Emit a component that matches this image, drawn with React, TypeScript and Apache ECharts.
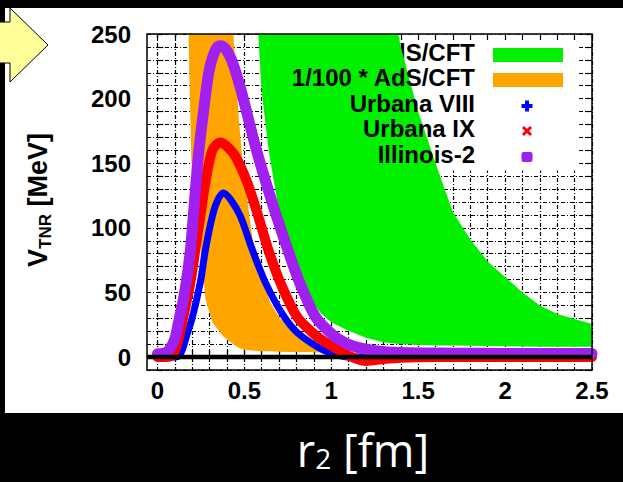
import React, { useEffect, useRef } from "react";
import * as echarts from "echarts";

// ---------- data ----------
const X_MIN = -0.06;
const X_MAX = 2.5;
const Y_MIN = -10;
const Y_MAX = 250;

// AdS/CFT band (green): lower and upper edges
const GREEN_R = [0.56, 0.58, 0.6, 0.64, 0.68, 0.7, 0.76, 0.84, 0.94, 1.0, 1.09, 1.2, 1.3, 1.4, 1.5, 1.6, 1.7, 1.8, 1.9, 2.0, 2.1, 2.2, 2.3, 2.4, 2.5];
const GREEN_LOW = [400, 250, 205, 160, 128, 113, 74, 52, 34, 27, 21, 15, 11.5, 10, 9.5, 9, 9, 8.7, 8.5, 8.3, 8.2, 8, 8, 8, 8];
const GREEN_HIGH = [1500, 1500, 1500, 1500, 1500, 1500, 1500, 1500, 1500, 1200, 900, 420, 310, 240, 190, 150, 112, 91, 74, 62, 50, 40, 33.4, 29.5, 25.5];

// 1/100 * AdS/CFT band (orange)
const ORANGE_R = [0.165, 0.17, 0.18, 0.195, 0.22, 0.258, 0.276, 0.316, 0.379, 0.437, 0.47, 0.5, 0.55, 0.6, 0.65, 0.7, 0.75, 0.8, 0.85, 0.9, 0.95, 1.0, 1.05];
const ORANGE_LOW = [700, 400, 240, 153, 110, 75, 45, 27, 16, 10, 7, 5.5, 5, 4.5, 4.5, 4.2, 4, 4, 4, 3.8, 3.6, 3.5, 3.5];
const ORANGE_HIGH = [1500, 1500, 1500, 1500, 1500, 1500, 1500, 1500, 1500, 250, 181, 137, 89, 61, 42, 31, 23, 17, 14, 11, 9, 7, 3.5];

// Urbana VIII (blue)
const BLUE_R = [0, 0.1, 0.125, 0.144, 0.161, 0.201, 0.247, 0.276, 0.316, 0.345, 0.379, 0.42, 0.477, 0.546, 0.62, 0.72, 0.804, 0.919, 1.0, 1.1, 1.3, 1.6, 2.0, 2.5];
const BLUE_V = [0, 0, 1, 5.8, 13.5, 31, 58, 83, 109, 121, 127, 122, 109, 83, 58, 33, 19, 8, 3, 0, 0, 0, 0, 0];

// Urbana IX (red)
const RED_R = [0, 0.05, 0.08, 0.1, 0.121, 0.149, 0.19, 0.218, 0.247, 0.276, 0.316, 0.362, 0.4, 0.45, 0.517, 0.58, 0.638, 0.706, 0.804, 0.9, 0.96, 1.011, 1.06, 1.11, 1.2, 1.3, 1.4, 1.6, 2.0, 2.5];
const RED_V = [0, 0, 1, 5, 13.5, 31, 58, 83, 109, 135, 160, 166, 163, 155, 135, 109, 83, 58, 31, 18, 12, 8, 4, 0.5, -3, -1.5, -0.5, 0, 0, 0];

// Illinois-2 (purple)
const PURPLE_R = [0, 0.04, 0.07, 0.1, 0.12, 0.15, 0.17, 0.19, 0.21, 0.235, 0.265, 0.295, 0.32, 0.345, 0.365, 0.4, 0.44, 0.48, 0.52, 0.56, 0.6, 0.65, 0.69, 0.75, 0.82, 0.91, 1.01, 1.08, 1.15, 1.25, 1.4, 1.7, 2.0, 2.5];
const PURPLE_V = [2.5, 3, 6, 14, 26, 45, 62, 83, 115, 155, 190, 220, 233, 240, 241, 237, 225, 207, 186, 165, 146, 124, 107, 83, 57, 31, 17, 11, 7.5, 5, 3.5, 3, 2.8, 2.7];

// zero line
const ZERO_R = [X_MIN, X_MAX];
const ZERO_V = [0, 0];

const LEGEND_LABELS = ["AdS/CFT", "1/100 * AdS/CFT", "Urbana VIII", "Urbana IX", "Illinois-2"];

// ---------- layout ----------
const W = 623;
const H = 482;
const GRID_LEFT = 147;
const GRID_TOP = 34;
const GRID_W = 445;
const GRID_H = 336;
const FONT = '"Liberation Sans", Arial, Helvetica, sans-serif';
const TITLE_FONT = '"Open Sans", "Noto Sans", sans-serif';

const GREEN = "#00f000";
const ORANGE = "#ffa500";
const BLUE = "#0000ff";
const RED = "#ff0000";
const PURPLE = "#a020f0";

const pairs = (xs: number[], ys: number[]) => xs.map((x, i) => [x, ys[i]]);

// clip a polygon (data coords) to y <= ymax
function clipTop(poly: number[][], ymax: number) {
  const out: number[][] = [];
  for (let i = 0; i < poly.length; i++) {
    const a = poly[i];
    const b = poly[(i + 1) % poly.length];
    const ain = a[1] <= ymax;
    const bin = b[1] <= ymax;
    if (ain) out.push(a);
    if (ain !== bin) {
      const t = (ymax - a[1]) / (b[1] - a[1]);
      out.push([a[0] + t * (b[0] - a[0]), ymax]);
    }
  }
  return out;
}

function bandSeries(name: string, xs: number[], lo: number[], hi: number[], color: string) {
  const poly = [...pairs(xs, hi), ...pairs(xs, lo).reverse()];
  const clipped = clipTop(poly, Y_MAX);
  return {
    type: "custom",
    name,
    coordinateSystem: "cartesian2d",
    xAxisIndex: 0,
    yAxisIndex: 0,
    data: [[xs[xs.length - 1], lo[lo.length - 1]]],
    silent: true,
    z: 3,
    renderItem: (_params: any, api: any) => ({
      type: "polygon",
      shape: { points: clipped.map((p) => api.coord(p)) },
      style: { fill: color, stroke: null },
    }),
  };
}

function buildOption() {
  const pxPerUnit = GRID_W / (X_MAX - X_MIN);
  const grid1Left = GRID_LEFT + (0 - X_MIN) * pxPerUnit;
  const gridLine = { color: "#000", width: 1.2, type: [4, 2, 1, 2] as any };
  const tick = { show: true, inside: true, length: 6, lineStyle: { color: "#000", width: 1.2 } };
  const labelFont = { color: "#000", fontSize: 24, fontWeight: "bold" as const, fontFamily: FONT };

  const curve = (name: string, xs: number[], ys: number[], color: string, width: number, z: number, clip = true) => ({
    type: "line",
    name,
    data: pairs(xs, ys),
    symbol: "none",
    smooth: 0.3,
    clip,
    lineStyle: { color, width, cap: "round", join: "round" },
    silent: true,
    z,
  });

  const rowY = [52, 77.6, 103.2, 128.8, 154.4];
  const textX = 475;
  const symX = 527;

  const legendText = LEGEND_LABELS.map((t, i) => ({
    type: "text",
    x: textX,
    y: rowY[i],
    z: i === 0 ? 2 : 4,
    style: {
      text: t,
      align: "right",
      verticalAlign: "middle",
      fontSize: 24,
      fontWeight: "bold",
      fontFamily: FONT,
      fill: "#000",
    },
  }));

  return {
    animation: false,
    backgroundColor: "transparent",
    grid: [
      { left: GRID_LEFT, top: GRID_TOP, width: GRID_W, height: GRID_H },
      { left: grid1Left, top: GRID_TOP, width: GRID_LEFT + GRID_W - grid1Left, height: GRID_H },
    ],
    xAxis: [
      { gridIndex: 0, type: "value", min: X_MIN, max: X_MAX, show: false },
      {
        gridIndex: 1,
        type: "value",
        min: 0,
        max: 2.5,
        interval: 0.1,
        position: "bottom",
        z: 0,
        axisLine: { show: false },
        axisTick: tick,
        splitLine: { show: true, lineStyle: gridLine },
        axisLabel: {
          ...labelFont,
          margin: 8,
          showMinLabel: true,
          showMaxLabel: true,
          formatter: (v: number) => {
            const k = Math.round(v * 10);
            return k % 5 === 0 ? String(k / 10) : "";
          },
        },
      },
      {
        gridIndex: 1,
        type: "value",
        min: 0,
        max: 2.5,
        interval: 0.1,
        position: "top",
        z: 2,
        axisLine: { show: false },
        axisTick: tick,
        splitLine: { show: false },
        axisLabel: { show: false },
      },
    ],
    yAxis: [
      {
        gridIndex: 0,
        type: "value",
        min: Y_MIN,
        max: Y_MAX,
        interval: 10,
        position: "left",
        z: 0,
        axisLine: { show: false },
        axisTick: tick,
        splitLine: { show: true, lineStyle: gridLine },
        axisLabel: {
          ...labelFont,
          margin: 16,
          showMinLabel: true,
          showMaxLabel: true,
          formatter: (v: number) => (Math.round(v) % 50 === 0 ? String(Math.round(v)) : ""),
        },
      },
      {
        gridIndex: 0,
        type: "value",
        min: Y_MIN,
        max: Y_MAX,
        interval: 10,
        position: "right",
        z: 0,
        axisLine: { show: false },
        axisTick: tick,
        splitLine: { show: false },
        axisLabel: { show: false },
      },
      { gridIndex: 1, type: "value", min: Y_MIN, max: Y_MAX, show: false },
    ],
    series: [
      bandSeries("AdS/CFT", GREEN_R, GREEN_LOW, GREEN_HIGH, GREEN),
      bandSeries("1/100 * AdS/CFT", ORANGE_R, ORANGE_LOW, ORANGE_HIGH, ORANGE),
      curve("Urbana VIII", BLUE_R, BLUE_V, BLUE, 7, 5),
      curve("Urbana IX", RED_R, RED_V, RED, 10, 6),
      curve("Illinois-2", PURPLE_R, PURPLE_V, PURPLE, 11, 7, false),
      {
        type: "line",
        name: "zero",
        data: pairs(ZERO_R, ZERO_V),
        symbol: "none",
        lineStyle: { color: "#000", width: 4.5 },
        silent: true,
        z: 8,
      },
    ],
    graphic: [
      // legend background
      { type: "rect", z: 1, shape: { x: 280, y: GRID_TOP + 0.5, width: 297, height: 136 }, style: { fill: "#fff" } },
      ...legendText,
      { type: "rect", z: 4, shape: { x: 493, y: 48, width: 70, height: 14 }, style: { fill: GREEN } },
      { type: "rect", z: 4, shape: { x: 493, y: 73, width: 70, height: 14 }, style: { fill: ORANGE } },
      { type: "rect", z: 4, shape: { x: symX - 5.5, y: rowY[2] + 2.8 - 2, width: 11, height: 4 }, style: { fill: BLUE } },
      { type: "rect", z: 4, shape: { x: symX - 2, y: rowY[2] + 2.8 - 5.5, width: 4, height: 11 }, style: { fill: BLUE } },
      { type: "line", z: 4, shape: { x1: symX - 4, y1: rowY[3] + 2.2 - 4, x2: symX + 4, y2: rowY[3] + 2.2 + 4 }, style: { stroke: RED, lineWidth: 3 } },
      { type: "line", z: 4, shape: { x1: symX - 4, y1: rowY[3] + 2.2 + 4, x2: symX + 4, y2: rowY[3] + 2.2 - 4 }, style: { stroke: RED, lineWidth: 3 } },
      { type: "rect", z: 4, shape: { x: symX - 5.5, y: rowY[4] + 2.6 - 5, width: 11, height: 10, r: 2 }, style: { fill: PURPLE } },
      // plot frame
      {
        type: "rect",
        z: 9,
        shape: { x: GRID_LEFT, y: GRID_TOP, width: GRID_W, height: GRID_H },
        style: { fill: "none", stroke: "#000", lineWidth: 1.5 },
      },
      // y axis title
      {
        type: "text",
        z: 4,
        x: 38,
        y: 200,
        rotation: Math.PI / 2,
        style: {
          text: "{a|V}{b|TNR}{a| [MeV]}",
          align: "center",
          verticalAlign: "middle",
          fill: "#000",
          rich: {
            a: { fontSize: 27, fontWeight: "bold", fontFamily: FONT, fill: "#000" },
            b: { fontSize: 17, fontWeight: "bold", fontFamily: FONT, fill: "#000", padding: [15, 0, 0, 0] },
          },
        },
      },
      // x axis title (outside the panel)
      {
        type: "text",
        z: 10,
        x: 363,
        y: 449,
        style: {
          text: "{a|r}{s|2}{a| [fm]}",
          align: "center",
          verticalAlign: "middle",
          fill: "#fff",
          rich: {
            a: { fontSize: 45, lineHeight: 45, fontFamily: TITLE_FONT, fill: "#fff" },
            s: { fontSize: 28, lineHeight: 28, fontFamily: TITLE_FONT, fill: "#fff", padding: [17, 0, 0, 0] },
          },
        },
      },
      // yellow arrow at top left
      {
        type: "polygon",
        z: 10,
        shape: { points: [[-2, 22], [10, 22], [10, 8], [48, 45], [10, 82], [10, 63], [-2, 63]] },
        style: { fill: "#ffff99", stroke: "#000", lineWidth: 1 },
      },
    ],
  };
}

export default function App() {
  const ref = useRef<HTMLDivElement>(null);
  useEffect(() => {
    if (!ref.current) return;
    const chart = echarts.init(ref.current, null, { renderer: "svg", width: W, height: H });
    chart.setOption(buildOption() as any);
    return () => chart.dispose();
  }, []);
  return (
    <div style={{ position: "fixed", left: 0, top: 0, width: W, height: H, background: "#000", overflow: "hidden" }}>
      <div style={{ position: "absolute", left: 5, top: 8, width: 618, height: 405, background: "#fff" }} />
      <div ref={ref} style={{ position: "absolute", left: 0, top: 0, width: W, height: H }} />
    </div>
  );
}
